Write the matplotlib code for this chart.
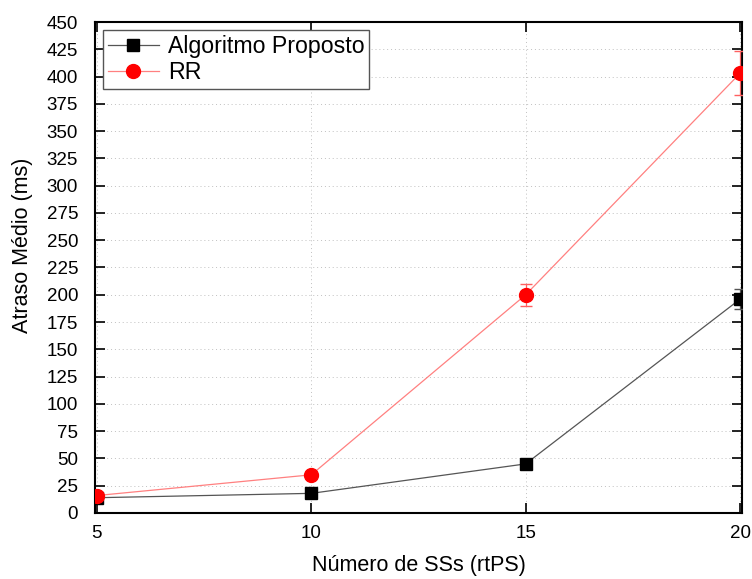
import matplotlib
matplotlib.use("Agg")
import matplotlib.pyplot as plt
from matplotlib.lines import Line2D

plt.rcParams['font.family'] = ['Liberation Sans', 'DejaVu Sans']

# data
ss = [5, 10, 15, 20]
proposto = [14, 18, 45, 196]
proposto_err = [0, 0, 0, 9]
rr = [16, 35, 200, 403]
rr_err = [0, 0, 10, 20]

fig = plt.figure(figsize=(7.52, 5.79), dpi=100)
ax = fig.add_axes([0.126, 0.114, 0.861, 0.848])

ax.errorbar(ss, proposto, yerr=proposto_err, color='#555555', lw=0.9,
            marker='s', ms=8, mfc='black', mec='black', capsize=4,
            elinewidth=0.9, zorder=3)
ax.errorbar(ss, rr, yerr=rr_err, color='#ff8080', lw=0.9,
            marker='o', ms=10, mfc='red', mec='red', capsize=4,
            ecolor='#ff6060', elinewidth=0.9, zorder=4)

ax.set_xlim(4.95, 20.05)
ax.set_ylim(0, 450)
ax.set_xticks(ss)
ax.set_yticks(range(0, 451, 25))
ax.grid(True, ls=(0, (1, 3)), color='#c0c0c0', lw=0.7)
ax.tick_params(direction='in', top=True, right=True, labelsize=13.5, length=7, width=1.2)
ax.tick_params(axis='x', pad=9)
ax.tick_params(axis='y', pad=12)
for s in ax.spines.values():
    s.set_linewidth(1.5)

ax.set_xlabel('Número de SSs (rtPS)', fontsize=15.5, labelpad=9)
ax.set_ylabel('Atraso Médio (ms)', fontsize=15.5)
ax.yaxis.set_label_coords(-0.096, 0.546)

handles = [
    Line2D([], [], color='#555555', lw=0.9, marker='s', ms=8, mfc='black', mec='black'),
    Line2D([], [], color='#ff8080', lw=0.9, marker='o', ms=10, mfc='red', mec='red'),
]
leg = ax.legend(handles, ['Algoritmo Proposto', 'RR'], loc='upper left', fontsize=16.7,
                fancybox=False, framealpha=1, edgecolor='#555555', borderaxespad=0.35,
                handlelength=2.2, borderpad=0.2, labelspacing=0.15, handletextpad=0.4)
leg.get_frame().set_linewidth(1.0)

fig.savefig('out.png', dpi=100)
